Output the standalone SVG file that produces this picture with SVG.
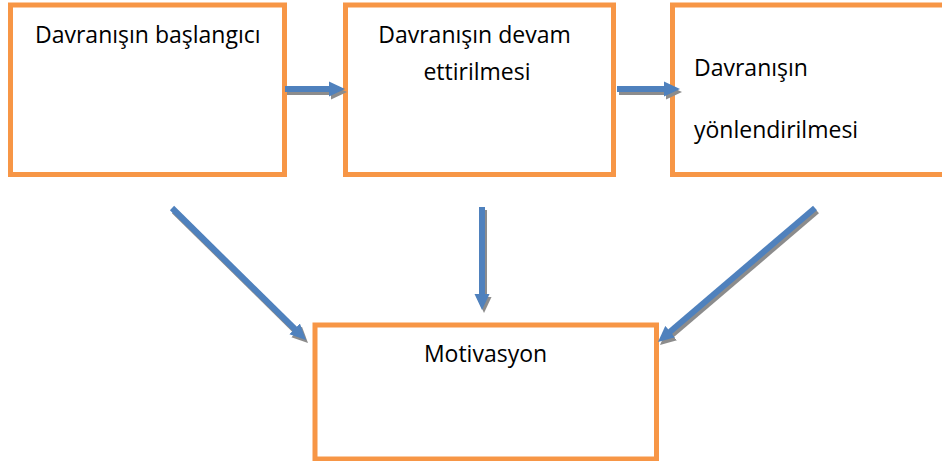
<svg xmlns="http://www.w3.org/2000/svg" width="942" height="461" viewBox="0 0 942 461">
<style>
.box{fill:#fff;stroke:#F79646;stroke-width:5}
.t{font-family:"Open Sans","Liberation Sans",sans-serif;font-size:23px;fill:#000}
.a{stroke:#4F81BD;stroke-width:6;fill:none;marker-end:url(#hb)}
.s{stroke:#8C8C8C;stroke-width:6;fill:none;marker-end:url(#hs)}
</style>
<defs>
<marker id="hb" markerUnits="userSpaceOnUse" markerWidth="16" markerHeight="16" refX="6" refY="7.5" orient="auto" viewBox="0 0 16 15"><path d="M0,0 L16,7.5 L0,15 z" fill="#4F81BD"/></marker>
<marker id="hs" markerUnits="userSpaceOnUse" markerWidth="16" markerHeight="16" refX="6" refY="7.5" orient="auto" viewBox="0 0 16 15"><path d="M0,0 L16,7.5 L0,15 z" fill="#8C8C8C"/></marker>
</defs>
<rect width="942" height="461" fill="#fff"/>
<g id="n1"><rect class="box" x="10.5" y="5" width="274" height="169.5"/><text class="t" x="35" y="43">Davranışın başlangıcı</text></g>
<g id="n2"><rect class="box" x="345.5" y="5" width="268" height="169.5"/><text class="t" x="474.5" y="43" text-anchor="middle">Davranışın devam</text><text class="t" x="477" y="80" text-anchor="middle">ettirilmesi</text></g>
<g id="n3"><rect class="box" x="672.5" y="5" width="280" height="169.5"/><text class="t" x="694" y="76">Davranışın</text><text class="t" x="694" y="138">yönlendirilmesi</text></g>
<g id="n4"><rect class="box" x="315" y="325" width="341.5" height="134"/><text class="t" x="485.5" y="362" text-anchor="middle">Motivasyon</text></g>
<g id="connectors">
<g transform="translate(2,3)">
<line class="s" x1="285" y1="89" x2="335" y2="89"/>
<line class="s" x1="617" y1="89" x2="670" y2="89"/>
<line class="s" x1="172" y1="208" x2="298.9" y2="333"/>
<line class="s" x1="482" y1="207" x2="482" y2="300"/>
<line class="s" x1="815" y1="208" x2="665.6" y2="335.5"/>
</g>
<line class="a" x1="285" y1="89" x2="335" y2="89"/>
<line class="a" x1="617" y1="89" x2="670" y2="89"/>
<line class="a" x1="172" y1="208" x2="298.9" y2="333"/>
<line class="a" x1="482" y1="207" x2="482" y2="300"/>
<line class="a" x1="815" y1="208" x2="665.6" y2="335.5"/>
</g>
</svg>
